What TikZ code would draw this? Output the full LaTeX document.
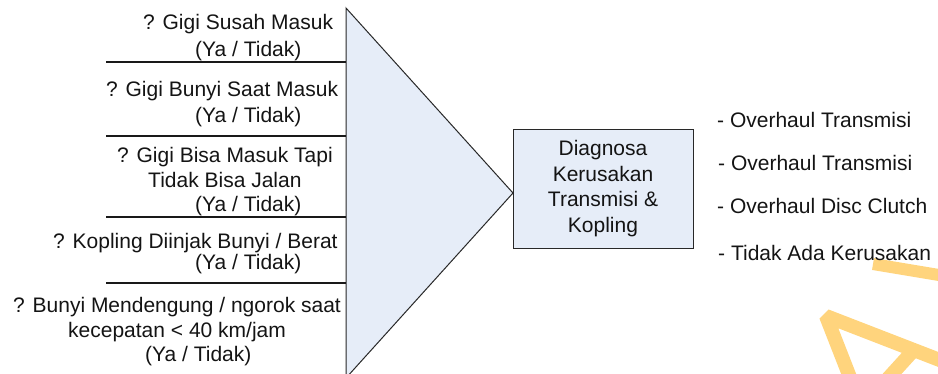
\documentclass[tikz,border=0pt]{standalone}
\usepackage{fontspec}
\setmainfont{Liberation Sans}
\definecolor{fillblue}{RGB}{230,237,248}
\definecolor{edgegray}{RGB}{40,40,40}
\definecolor{wmark}{RGB}{255,212,125}
\begin{document}
\begin{tikzpicture}[x=1pt,y=-1pt,
  txt/.style={inner sep=0pt, anchor=base west, font=\fontsize{21}{25.5}\selectfont, text=black!92},
  diag/.style={draw=edgegray, line width=1pt, fill=fillblue},
  sep/.style={draw=black!90, line width=1.1pt},
  wm/.style={draw=wmark, line width=14pt, line join=bevel}]
\useasboundingbox (0,0) rectangle (938,373);
\clip (0,0) rectangle (938,373);
% watermark
\draw[wm, line width=12pt] (873,264) -- (945,276);
\draw[wm] (853,385) -- (826,316) -- (950,364);
\draw[wm] (912,352) -- (882,385);
% triangle
\coordinate (tTop) at (346,8);
\coordinate (tApex) at (513,193);
\coordinate (tBot) at (346,378);
\draw[diag] (tTop) -- (tApex) -- (tBot) -- cycle;
% separators
\foreach \yy/\nm in {62/s1,136/s2,217/s3,283/s4}{
  \coordinate (\nm L) at (106,\yy);
  \coordinate (\nm R) at (346,\yy);
  \draw[sep] (\nm L) -- (\nm R);
}
% questions
\node[txt] (q1a) at (143,29.5) {? Gigi Susah Masuk};
\node[txt] (q1b) at (195,56) {(Ya / Tidak)};
\node[txt] (q2a) at (106,96) {? Gigi Bunyi Saat Masuk};
\node[txt] (q2b) at (195,122) {(Ya / Tidak)};
\node[txt] (q3a) at (117,162) {? Gigi Bisa Masuk Tapi};
\node[txt] (q3b) at (148,187) {Tidak Bisa Jalan};
\node[txt] (q3c) at (195,211.5) {(Ya / Tidak)};
\node[txt] (q4a) at (53,248.5) {? Kopling Diinjak Bunyi / Berat};
\node[txt] (q4b) at (195,269.5) {(Ya / Tidak)};
\node[txt] (q5a) at (13,312) {? Bunyi Mendengung / ngorok saat};
\node[txt] (q5b) at (68,337) {kecepatan < 40 km/jam};
\node[txt] (q5c) at (145,361.5) {(Ya / Tidak)};
% box
\node[diag, minimum width=180pt, minimum height=119pt, inner sep=0pt, align=center,
  font=\fontsize{21}{25.5}\selectfont, text=black!92] (box) at (603,188.5)
  {Diagnosa\\Kerusakan\\Transmisi \&\\Kopling};
% results
\node[txt] (r1) at (717,127) {- Overhaul Transmisi};
\node[txt] (r2) at (718,170.5) {- Overhaul Transmisi};
\node[txt] (r3) at (717,213.5) {- Overhaul Disc Clutch};
\node[txt] (r4) at (718,260.5) {- Tidak Ada Kerusakan};
\end{tikzpicture}
\end{document}
